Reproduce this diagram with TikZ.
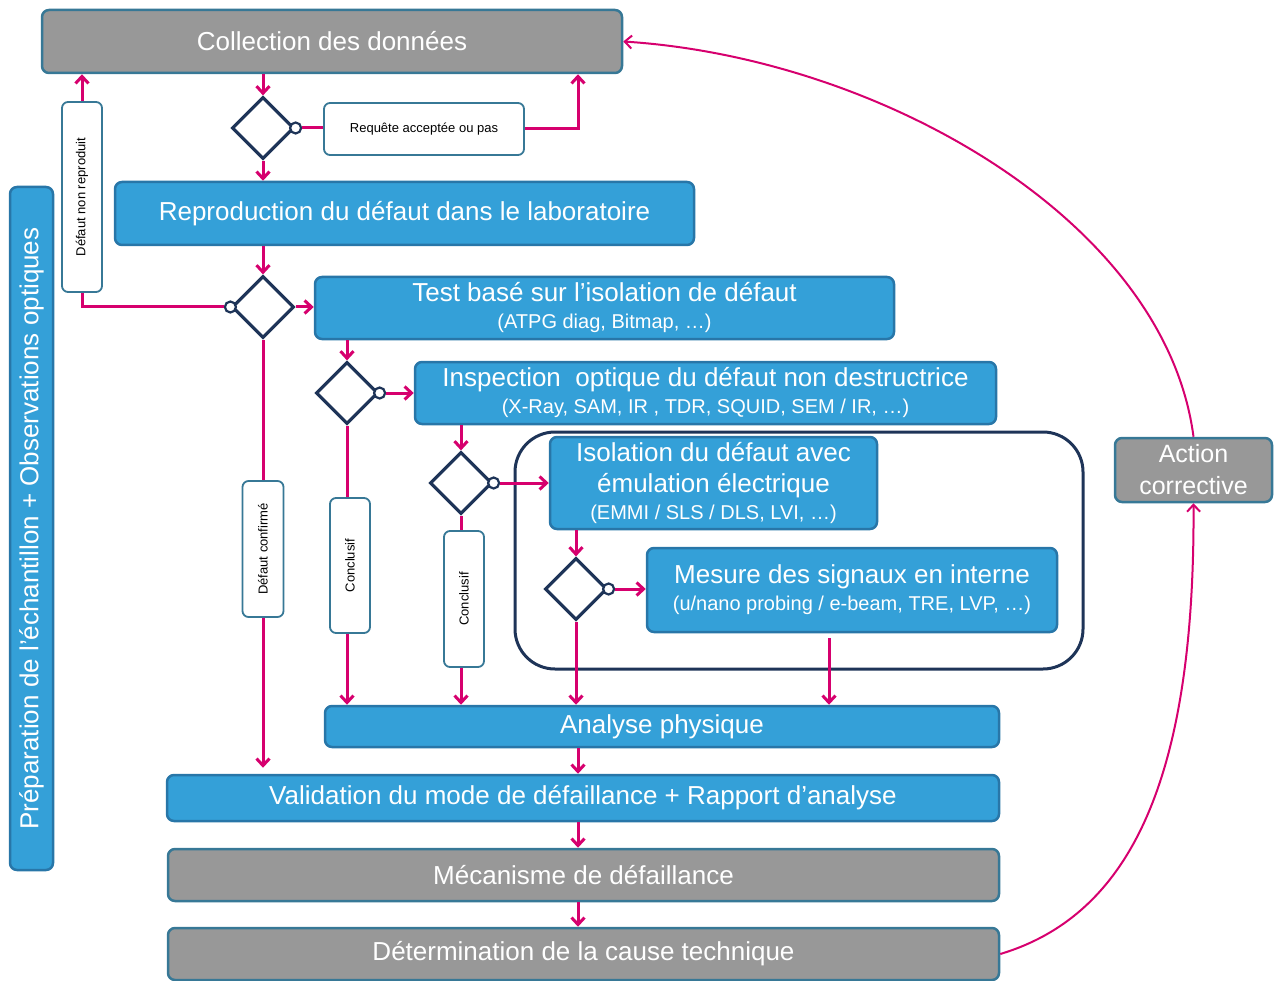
\documentclass[tikz,border=0pt]{standalone}
\usepackage{fontspec}
\setmainfont{Liberation Sans}
\usetikzlibrary{shapes.geometric,arrows.meta,calc}
\definecolor{mblue}{RGB}{52,160,216}
\definecolor{mblueb}{RGB}{40,118,168}
\definecolor{mgray}{RGB}{152,152,152}
\definecolor{mgrayb}{RGB}{55,120,150}
\definecolor{mag}{RGB}{214,0,110}
\definecolor{navy}{RGB}{30,52,88}
\begin{document}
\begin{tikzpicture}[x=1pt,y=-1pt,
  box/.style={rounded corners=7pt, line width=2.5pt, text=white, align=center, inner sep=0pt},
  bluebox/.style={box, fill=mblue, draw=mblueb},
  graybox/.style={box, fill=mgray, draw=mgrayb},
  wbox/.style={rounded corners=6pt, line width=1.8pt, draw=mgrayb, fill=white, align=center, inner sep=0pt, font=\fontsize{13}{15}\selectfont},
  dia/.style={diamond, draw=navy, line width=3.2pt, minimum width=62pt, minimum height=62pt, inner sep=0pt, fill=white},
  dot/.style={circle, draw=navy, line width=2.2pt, fill=white, minimum size=11pt, inner sep=0pt},
  conn/.style={draw=mag, line width=3pt},
  arr/.style={conn, -{Straight Barb[length=7pt,width=13pt]}},
  big/.style={font=\fontsize{26}{30}\selectfont},
  two/.style={font=\fontsize{26}{27}\selectfont}
]
\useasboundingbox (0,0) rectangle (1276,981);

% frame
\node[draw=navy, line width=3pt, rounded corners=40pt, minimum width=568pt, minimum height=237pt, inner sep=0pt] (frame) at (799,550.5) {};

% main boxes
\node[graybox, big, minimum width=580pt, minimum height=63pt] (coll) at (332,41.5) {Collection des données};
\node[wbox, minimum width=200pt, minimum height=52pt] (req) at (424,129) {Requête acceptée ou pas};
\node[bluebox, big, minimum width=579pt, minimum height=63pt] (repro) at (404.5,213.5) {Reproduction du défaut dans le laboratoire};
\node[bluebox, two, minimum width=579pt, minimum height=62pt] (test) at (604.5,308) {Test basé sur l’isolation de défaut\\{\fontsize{20}{27}\selectfont (ATPG diag, Bitmap, …)}};
\node[bluebox, two, minimum width=581pt, minimum height=62pt] (insp) at (705.5,393) {Inspection\ \ optique du défaut non destructrice\\{\fontsize{20}{27}\selectfont (X-Ray, SAM, IR , TDR, SQUID, SEM / IR, …)}};
\node[bluebox, two, minimum width=327pt, minimum height=92pt] (isol) at (713.5,483) {Isolation du défaut avec\\[4pt]émulation électrique\\{\fontsize{20}{27}\selectfont (EMMI / SLS / DLS, LVI, …)}};
\node[bluebox, two, minimum width=410pt, minimum height=84pt] (mes) at (852,590) {Mesure des signaux en interne\\{\fontsize{20}{27}\selectfont (u/nano probing / e-beam, TRE, LVP, …)}};
\node[bluebox, big, minimum width=674pt, minimum height=41pt] (anal) at (662,726.5) {Analyse physique};
\node[bluebox, big, minimum width=832pt, minimum height=46pt] (valid) at (583,798) {Validation du mode de défaillance + Rapport d’analyse};
\node[graybox, big, minimum width=831pt, minimum height=52pt] (meca) at (583.5,875) {Mécanisme de défaillance};
\node[graybox, big, minimum width=831pt, minimum height=52pt] (det) at (583.5,954) {Détermination de la cause technique};
\node[graybox, font=\fontsize{25}{32}\selectfont, minimum width=157pt, minimum height=64pt] (act) at (1193.5,470) {Action\\corrective};
\node[bluebox, big, minimum width=43pt, minimum height=683pt] (prep) at (31.5,528.5) {\rotatebox{90}{Préparation de l’échantillon + Observations optiques}};

% labels
\node[wbox, minimum width=40pt, minimum height=190pt] (dnr) at (82,197) {\rotatebox{90}{Défaut non reproduit}};
\node[wbox, minimum width=41pt, minimum height=136pt] (dconf) at (263,549) {\rotatebox{90}{Défaut confirmé}};
\node[wbox, minimum width=40pt, minimum height=135pt] (conc1) at (350,565.5) {\rotatebox{90}{Conclusif}};
\node[wbox, minimum width=40pt, minimum height=136pt] (conc2) at (464,599) {\rotatebox{90}{Conclusif}};

% diamonds
\node[dia] (d1) at (263,128) {};
\node[dia] (d2) at (263,307) {};
\node[dia] (d3) at (347,393) {};
\node[dia] (d4) at (461,483) {};
\node[dia] (d5) at (576,589) {};

\coordinate (cR) at (578,0);
\coordinate (mX) at (829,0);
\coordinate (cX) at (578,0);

% connectors
\draw[arr] (coll.south -| d1.north) -- (d1.north);
\node[dot] (o1) at (d1.east) {};
\draw[conn] (o1.east) -- (o1.east -| req.west);
\draw[arr] (req.east) -| (coll.south -| cR);
\draw[arr] (d1.south) -- (d1.south |- repro.north);

\draw[arr] (repro.south -| d2.north) -- (d2.north);
\node[dot] (o2) at (d2.west) {};
\draw[conn] (o2.west) -| (dnr.south);
\draw[arr] (dnr.north) -- (dnr.north |- coll.south);
\draw[arr] (d2.east) -- (d2.east -| test.west);
\draw[conn] (d2.south) -- (d2.south |- dconf.north);
\draw[arr] (dconf.south) -- ($(dconf.south |- valid.north)+(0,-6)$);

\draw[arr] (test.south -| d3.north) -- (d3.north);
\node[dot] (o3) at (d3.east) {};
\draw[arr] (o3.east) -- (o3.east -| insp.west);
\draw[conn] (d3.south) -- (d3.south |- conc1.north);
\draw[arr] (d3.south |- conc1.south) -- (d3.south |- anal.north);

\draw[arr] (insp.south -| d4.north) -- (d4.north);
\node[dot] (o4) at (d4.east) {};
\draw[arr] (o4.east) -- (o4.east -| isol.west);
\draw[conn] (d4.south) -- (d4.south |- conc2.north);
\draw[arr] (d4.south |- conc2.south) -- (d4.south |- anal.north);

\draw[arr] (isol.south -| d5.north) -- (d5.north);
\node[dot] (o5) at (d5.east) {};
\draw[arr] (o5.east) -- (o5.east -| mes.west);
\draw[arr] (d5.south) -- (d5.south |- anal.north);
\draw[arr] ($(mes.south -| mX)+(0,5)$) -- (anal.north -| mX);

\draw[arr] (anal.south -| cX) -- (valid.north -| cX);
\draw[arr] (valid.south -| cX) -- (meca.north -| cX);
\draw[arr] (meca.south -| cX) -- (det.north -| cX);

\draw[arr, line width=2pt] (det.east) .. controls (1130,915) and (1195,780) .. (act.south);
\draw[arr, line width=2pt] (act.north) .. controls (1165,220) and (880,58) .. (coll.east);
\end{tikzpicture}
\end{document}
